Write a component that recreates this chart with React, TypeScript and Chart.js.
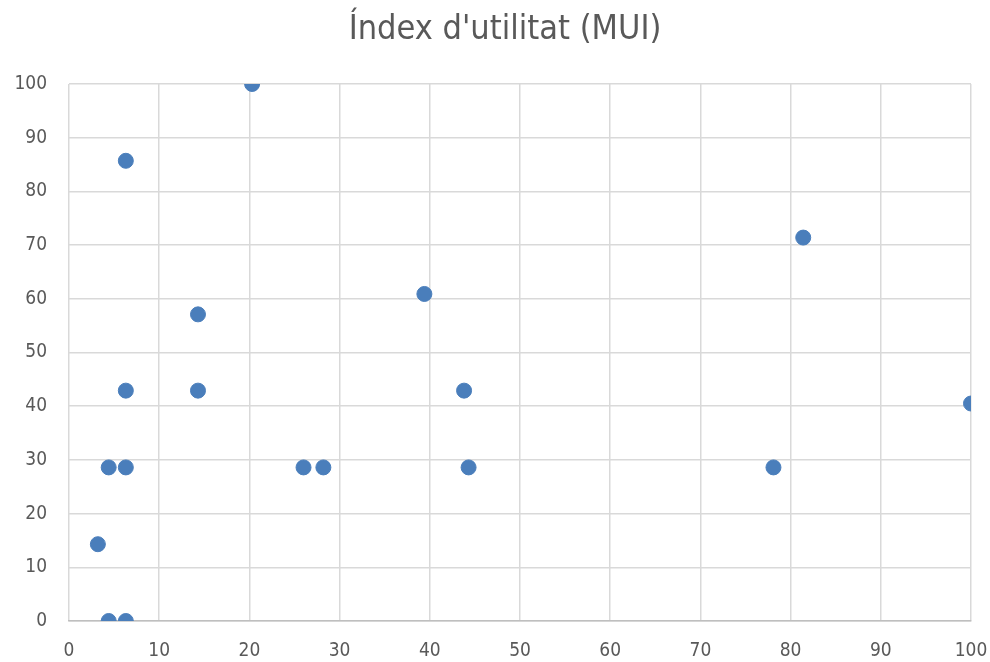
import React, { useEffect, useRef } from "react";
import { Chart, registerables } from "chart.js";

Chart.register(...registerables);

const titleText = "Índex d'utilitat (MUI)";
const xValues = [20.3, 6.3, 81.4, 39.4, 14.3, 6.3, 14.3, 43.8, 100, 4.4, 6.3, 26.0, 28.2, 44.3, 78.1, 3.2, 4.4, 6.3];
const yValues = [100, 85.7, 71.4, 60.9, 57.1, 42.9, 42.9, 42.9, 40.5, 28.6, 28.6, 28.6, 28.6, 28.6, 28.6, 14.3, 0, 0];
const axisMin = 0;
const axisMax = 100;
const tickStep = 10;

const FONT = "'Liberation Sans Narrow', 'DejaVu Sans Condensed', 'Liberation Sans', sans-serif";

const titlePlugin = {
  id: "customTitle",
  afterDraw(chart: any) {
    const ctx = chart.ctx;
    ctx.save();
    ctx.fillStyle = "#595959";
    ctx.font = `34px ${FONT}`;
    ctx.textAlign = "center";
    ctx.textBaseline = "alphabetic";
    ctx.fillText(titleText, 505, 39);
    ctx.restore();
  },
};

export default function App() {
  const ref = useRef<HTMLCanvasElement | null>(null);
  useEffect(() => {
    if (!ref.current) return;
    const points = xValues.map((x, i) => ({ x, y: yValues[i] }));
    const chart = new Chart(ref.current, {
      type: "scatter",
      data: {
        datasets: [
          {
            data: points,
            backgroundColor: "#4a7ebb",
            borderColor: "#4a7ebb",
            pointRadius: 7.5,
            pointHoverRadius: 7.5,
          },
        ],
      },
      options: {
        animation: false,
        responsive: false,
        maintainAspectRatio: false,
        layout: { padding: { left: 0, right: 19, top: 84, bottom: 0 } },
        plugins: {
          legend: { display: false },
          tooltip: { enabled: false },
          title: { display: false },
        },
        scales: {
          x: {
            type: "linear",
            min: axisMin,
            max: axisMax,
            ticks: {
              stepSize: tickStep,
              color: "#595959",
              font: { family: FONT, size: 19 },
              padding: 19,
              maxRotation: 0,
            },
            grid: { color: "#d9d9d9", lineWidth: 1.5, drawTicks: false },
            border: { color: "#bfbfbf", width: 1.5 },
            afterFit: (s: any) => {
              s.height = 41;
              s.paddingRight = 0;
              s.paddingLeft = 0;
            },
          },
          y: {
            type: "linear",
            min: axisMin,
            max: axisMax,
            ticks: {
              stepSize: tickStep,
              color: "#595959",
              font: { family: FONT, size: 19 },
              padding: 22,
            },
            grid: { color: "#d9d9d9", lineWidth: 1.5, drawTicks: false },
            border: { display: false },
            afterFit: (s: any) => {
              s.width = 69;
              s.paddingTop = 0;
              s.paddingBottom = 0;
            },
          },
        },
      },
      plugins: [titlePlugin],
    });
    return () => chart.destroy();
  }, []);
  return (
    <div style={{ position: "fixed", left: 0, top: 0, width: 990, height: 662, background: "#fff" }}>
      <canvas ref={ref} width={990} height={662} style={{ width: 990, height: 662 }} />
    </div>
  );
}
